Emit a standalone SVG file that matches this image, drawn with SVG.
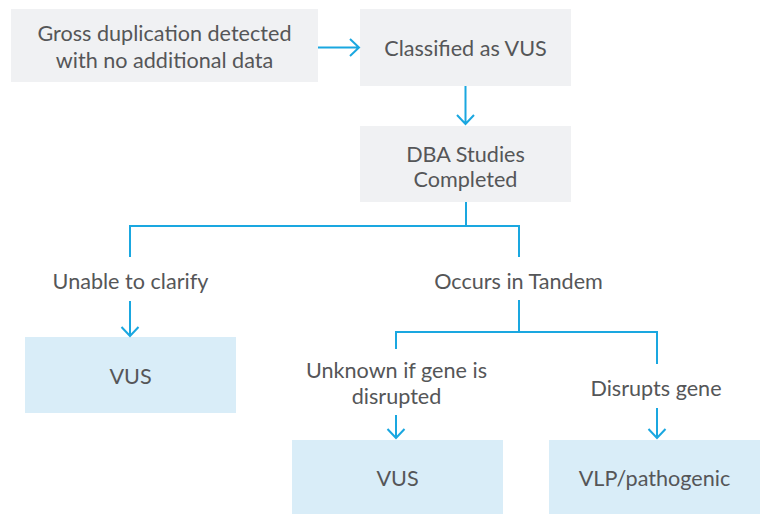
<svg xmlns="http://www.w3.org/2000/svg" width="763" height="514" viewBox="0 0 763 514">
<style>
.g{fill:#f0f1f3}
.b{fill:#d9edf8}
.t{font-family:Lato,"Open Sans",sans-serif;font-size:21.6px;fill:#555658;text-anchor:middle}
.c{fill:none;stroke:#1aa7e0;stroke-width:2}
</style>
<rect width="763" height="514" fill="#fff"/>
<g id="n1"><rect class="g" x="11" y="9" width="307" height="73"/><text class="t" x="164.5" y="41">Gross duplication detected</text><text class="t" x="164.5" y="68">with no additional data</text></g>
<g id="n2"><rect class="g" x="360" y="9" width="211" height="77"/><text class="t" x="465.5" y="56">Classified as VUS</text></g>
<g id="n3"><rect class="g" x="360" y="126" width="211" height="76"/><text class="t" x="465.5" y="162">DBA Studies</text><text class="t" x="465.5" y="187">Completed</text></g>
<g id="n4"><rect class="b" x="25" y="337" width="211" height="76"/><text class="t" x="130.5" y="384">VUS</text></g>
<g id="n5"><rect class="b" x="292" y="440" width="211" height="74"/><text class="t" x="397.5" y="486">VUS</text></g>
<g id="n6"><rect class="b" x="549" y="440" width="211" height="74"/><text class="t" x="654.5" y="486">VLP/pathogenic</text></g>
<g id="labels">
<text class="t" x="130.5" y="289">Unable to clarify</text>
<text class="t" x="518.5" y="289">Occurs in Tandem</text>
<text class="t" x="396.5" y="378">Unknown if gene is</text>
<text class="t" x="396.5" y="404">disrupted</text>
<text class="t" x="656" y="396">Disrupts gene</text>
</g>
<g id="connectors">
<path class="c" d="M318 47.5H359M350 39l9 8.5-9 8.5"/>
<path class="c" d="M465.5 86V124M457 115l8.5 9 8.5-9"/>
<path class="c" d="M466 202V226M130 257V226H519V257"/>
<path class="c" d="M130 301V336M121.5 327l8.5 9 8.5-9"/>
<path class="c" d="M519 300V332M396 349V332H657V364"/>
<path class="c" d="M396 415V438M387.5 429l8.5 9 8.5-9"/>
<path class="c" d="M657 408V438M648.5 429l8.5 9 8.5-9"/>
</g>
</svg>
